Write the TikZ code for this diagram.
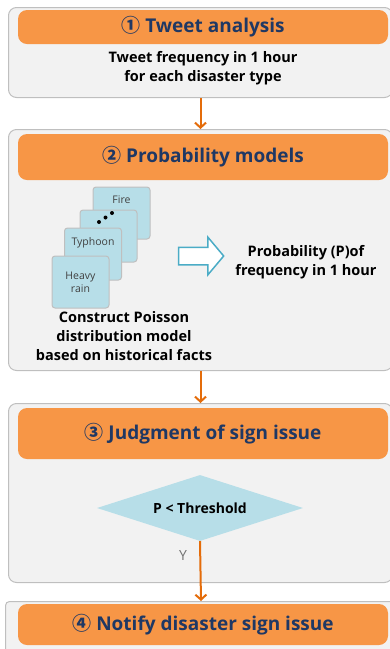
\documentclass[tikz,border=0pt]{standalone}
\usepackage{fontspec}
\setmainfont{Open Sans}
\newfontfamily\cjk{Noto Sans CJK KR}
\usetikzlibrary{arrows.meta,shapes.geometric,shapes.arrows}

\definecolor{hdrorange}{HTML}{F79646}
\definecolor{hdrblue}{HTML}{1F3864}
\definecolor{panelgray}{HTML}{F2F2F2}
\definecolor{panelline}{HTML}{BFBFBF}
\definecolor{cardblue}{HTML}{B7DEE8}
\definecolor{arroworange}{HTML}{E46C0A}
\definecolor{hollowblue}{HTML}{4BACC6}

\tikzset{
  panel/.style={draw=panelline, fill=panelgray, rounded corners=8pt, line width=1pt,
    anchor=north west, inner sep=0pt},
  header/.style={fill=hdrorange, rounded corners=9pt, text=hdrblue, minimum width=370pt,
    inner sep=0pt, font=\bfseries\fontsize{19}{22}\selectfont},
  card/.style={draw=panelline, fill=cardblue, rounded corners=3pt, line width=1pt,
    minimum width=57pt, minimum height=52pt, inner sep=0pt},
  cardlabel/.style={text=black!75, font=\fontsize{10.5}{13}\selectfont, align=center},
  bodytext/.style={font=\bfseries\fontsize{14.5}{19}\selectfont, align=center},
  flow/.style={draw=arroworange, line width=2pt, -{Straight Barb[length=5pt,width=11pt]}},
}

\begin{document}
\begin{tikzpicture}[x=1pt, y=-1pt]
    \useasboundingbox (0,0) rectangle (390,649);

    % step 1
    \node [panel, minimum width=384pt, minimum height=90pt] (tweetpanel) at (8,7) {};
    \node [header, minimum height=34pt] (tweethead) at (203,27) {{\cjk ①}\ Tweet analysis};
    \node [bodytext] (tweettext) at (203,68) {Tweet frequency in 1 hour\\for each disaster type};

    % step 2
    \node [panel, minimum width=384pt, minimum height=241pt] (probpanel) at (8,129) {};
    \node [header, minimum height=46pt] (probhead) at (203,157) {{\cjk ②}\ Probability models};
    \node [card] (fire) at (121.5,213) {};
    \node [card] (more) at (108.5,236) {};
    \node [card] (typhoon) at (93,254) {};
    \node [card] (rain) at (80.5,282) {};
    \node [cardlabel] (firetext) at ([yshift=-13pt]fire.north) {Fire};
    \node [cardlabel] (typhoontext) at ([yshift=-15pt]typhoon.north) {Typhoon};
    \node [cardlabel] (raintext) at (rain.center) {Heavy\\rain};
    \foreach \x/\y in {99/222, 105.5/217.5, 112/213}
        \fill (\x,\y) circle (2pt);
    \node [single arrow, draw=hollowblue, fill=white, line width=1.5pt, inner sep=8pt,
        minimum height=45pt, single arrow head extend=10pt, single arrow tip angle=100]
        (toprob) at (197.5,256) {};
    \node [bodytext] (probtext) at (306,262) {Probability (P)of\\frequency in 1 hour};
    \node [bodytext] (poisson) at (124,336) {Construct Poisson\\distribution model\\based on historical facts};

    % step 3
    \node [panel, minimum width=384pt, minimum height=179pt] (judgepanel) at (8,403) {};
    \node [header, minimum height=51pt] (judgehead) at (203,433.5) {{\cjk ③}\ Judgment of sign issue};
    \node [diamond, aspect=3.1, fill=cardblue, minimum width=206pt, minimum height=66pt, inner sep=0pt,
        font=\bfseries\fontsize{14}{16}\selectfont] (threshold) at (200,508) {P < Threshold};
    \node [text=black!55, font=\fontsize{14}{16}\selectfont] (yes) at (183,555) {Y};

    % step 4
    \node [panel, rounded corners=4pt, minimum width=391pt, minimum height=60pt] (notifypanel) at (5,601) {};
    \node [header, minimum height=41pt] (notifyhead) at (203,624.5) {{\cjk ④}\ Notify disaster sign issue};

    \draw [flow] (tweetpanel.south) -- (probpanel.north);
    \draw [flow] (probpanel.south) -- (judgepanel.north);
    \draw [flow] (threshold.south) -- (notifypanel.north);
\end{tikzpicture}
\end{document}
